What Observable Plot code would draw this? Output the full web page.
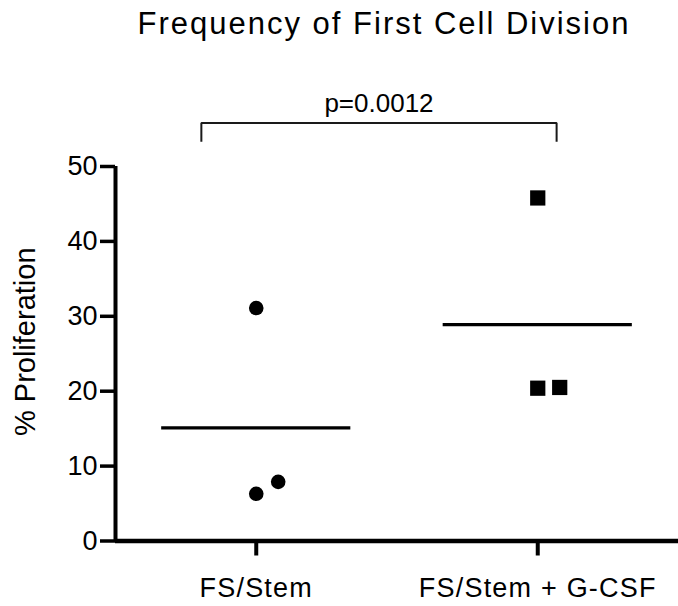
<!DOCTYPE html>
<html>
<head>
<meta charset="utf-8">
<script src="https://cdn.jsdelivr.net/npm/d3@7"></script>
<script src="https://cdn.jsdelivr.net/npm/@observablehq/plot@0.6"></script>
<style>
  html, body { margin: 0; padding: 0; background: #fff; }
  body { font-family: "Liberation Sans", Arial, Helvetica, sans-serif; color: #000; width: 678px; }
  #title { height: 48px; line-height: 48px; font-size: 31px; letter-spacing: 2px; text-align: center; padding-left: 90px; box-sizing: border-box; width: 678px; white-space: nowrap; }
  g[aria-label="x-axis tick label"] text { letter-spacing: 1.2px; }
  g[aria-label="p-value"] text { letter-spacing: 2.6px; }
</style>
</head>
<body>
<div id="title">Frequency of First Cell Division</div>
<div id="chart"></div>
<script>
// ---- data ----
const groups = ["FS/Stem", "FS/Stem + G-CSF"];
const fsStem = [31.1, 6.3, 7.9];          // % proliferation, circles
const fsStemGcsf = [45.8, 20.4, 20.5];    // % proliferation, squares
const jitter = [0, 0, 0.078];             // horizontal spread within a group (category units)
const yTicks = [0, 10, 20, 30, 40, 50];
const yLabel = "% Proliferation";
const pLabel = "p=0.0012";
const bracketX = [-0.195, 1.067];         // bracket ends (category units)
const bracketY = [53.3, 55.8];            // bracket foot / top (% units)
const pLabelY = 57.25;
const meanHalfWidth = 0.336;

const seriesValues = [fsStem, fsStemGcsf];
const points = groups.flatMap((g, i) =>
  seriesValues[i].map((v, j) => ({group: g, x: i + jitter[j], y: v})));
const means = groups.map((g, i) => ({
  group: g, x1: i - meanHalfWidth, x2: i + meanHalfWidth, y: d3.mean(seriesValues[i])
}));
const bracketPts = [
  {x: bracketX[0], y: bracketY[0]},
  {x: bracketX[0], y: bracketY[1]},
  {x: bracketX[1], y: bracketY[1]},
  {x: bracketX[1], y: bracketY[0]}
];

const chart = Plot.plot({
  width: 678,
  height: 558,
  marginTop: 118,
  marginBottom: 65.5,
  marginLeft: 115,
  marginRight: 0,
  style: {fontFamily: '"Liberation Sans", Arial, Helvetica, sans-serif', fontSize: "26px", color: "#000", background: "#fff"},
  x: {domain: [-0.5, 1.5], axis: null},
  y: {domain: [0, 50], axis: null},
  marks: [
    Plot.axisY({ticks: yTicks, tickSize: 15, tickPadding: 3, strokeWidth: 3.5, fontSize: 27, label: null, tickFormat: d => d}),
    Plot.axisX({ticks: [0, 1], tickFormat: i => groups[i], tickSize: 15, tickPadding: 22, strokeWidth: 4, fontSize: 27, label: null}),
    Plot.ruleX([-0.5], {y1: 0, y2: 50, strokeWidth: 4, stroke: "#000"}),
    Plot.ruleY([0], {x1: -0.5, x2: 1.5, strokeWidth: 4.5, stroke: "#000"}),
    Plot.ruleY(means, {x1: "x1", x2: "x2", y: "y", strokeWidth: 3.3, stroke: "#000"}),
    Plot.dot(points.filter(d => d.group === groups[0]), {x: "x", y: "y", symbol: "circle", r: 7.3, fill: "#000", stroke: "none"}),
    Plot.dot(points.filter(d => d.group === groups[1]), {x: "x", y: "y", symbol: "square", r: 8.6, fill: "#000", stroke: "none"}),
    Plot.line(bracketPts, {x: "x", y: "y", stroke: "#1a1a1a", strokeWidth: 2, strokeLinejoin: "miter", strokeLinecap: "butt"}),
    Plot.text([pLabel], {x: d3.mean(bracketX), y: pLabelY, text: d => d, lineAnchor: "bottom", fontSize: 26, fill: "#000", ariaLabel: "p-value"}),
    Plot.text([yLabel], {frameAnchor: "left", text: d => d, textAnchor: "middle", rotate: -90, dx: -90, dy: -12, fontSize: 29, fill: "#000"})
  ]
});
document.getElementById("chart").appendChild(chart);
</script>
</body>
</html>
